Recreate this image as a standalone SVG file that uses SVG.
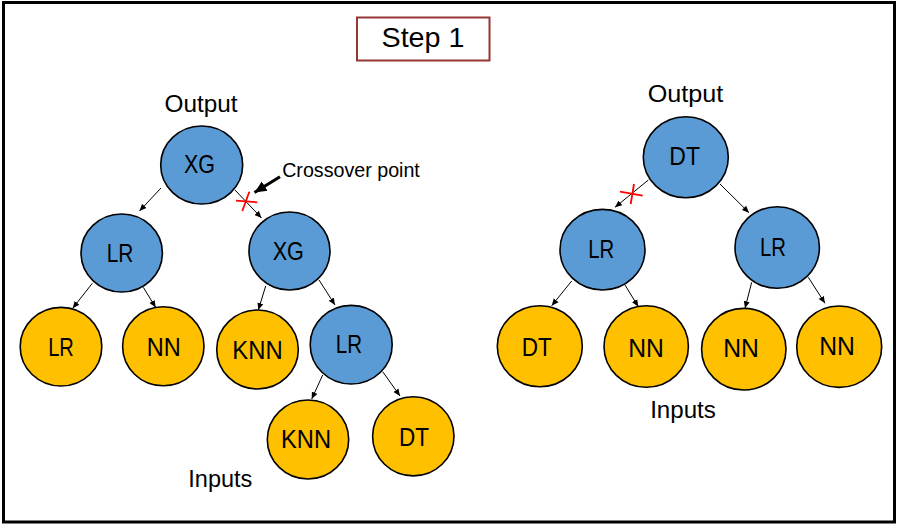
<svg xmlns="http://www.w3.org/2000/svg" width="899" height="527" viewBox="0 0 899 527">
<style>
.b{fill:#5B9BD5;stroke:#000;stroke-width:1.6}
.y{fill:#FFC000;stroke:#000;stroke-width:1.6}
.t{font-family:"Liberation Sans",Arial,sans-serif;fill:#000;text-anchor:middle}
.lbl{font-size:25px}
.cap{font-size:23.5px}
.e{stroke:#000;stroke-width:1;fill:none;marker-end:url(#ah)}
.x{stroke:#FF0000;stroke-width:1.8;fill:none}
</style>
<defs>
<marker id="ah" markerUnits="userSpaceOnUse" markerWidth="8" markerHeight="8" refX="7" refY="4" orient="auto">
<path d="M0,1 L7,4 L0,7 Z" fill="#000"/>
</marker>
<marker id="ahb" markerUnits="userSpaceOnUse" markerWidth="14" markerHeight="14" refX="12" refY="7" orient="auto">
<path d="M0,1.5 L12,7 L0,12.5 Z" fill="#000"/>
</marker>
</defs>
<rect x="0" y="0" width="899" height="527" fill="#fff"/>
<rect x="3.5" y="2.5" width="891" height="519.5" fill="none" stroke="#000" stroke-width="3"/>

<g id="title">
<rect x="357" y="17.5" width="132.5" height="43" fill="#fff" stroke="#953735" stroke-width="2"/>
<text class="t" x="423" y="47" font-size="28.5" textLength="83" lengthAdjust="spacingAndGlyphs">Step 1</text>
</g>

<g id="connectors">
<line class="e" x1="161" y1="188" x2="139.5" y2="211"/>
<line class="e" x1="235" y1="190" x2="261.5" y2="218"/>
<line class="e" x1="92.3" y1="283.3" x2="72.7" y2="308.3"/>
<line class="e" x1="143.3" y1="287.3" x2="155.7" y2="307.5"/>
<line class="e" x1="265.7" y1="286" x2="258.3" y2="310"/>
<line class="e" x1="319" y1="280" x2="335" y2="305"/>
<line class="e" x1="322.7" y1="375" x2="311.7" y2="399"/>
<line class="e" x1="382.7" y1="371.7" x2="400" y2="396"/>
<line class="e" x1="648.3" y1="180" x2="615" y2="207.3"/>
<line class="e" x1="720" y1="184" x2="749" y2="212.7"/>
<line class="e" x1="571.7" y1="281" x2="551.7" y2="305.7"/>
<line class="e" x1="625" y1="285" x2="638.3" y2="306.7"/>
<line class="e" x1="751.7" y1="282.3" x2="745" y2="308.3"/>
<line class="e" x1="808.3" y1="277.3" x2="825" y2="303.3"/>
</g>

<g id="crossover-left">
<line class="x" x1="236" y1="200.7" x2="257.3" y2="202.3"/>
<line class="x" x1="249.3" y1="191.7" x2="242.3" y2="211"/>
</g>
<g id="crossover-right">
<line class="x" x1="620" y1="191.7" x2="642.7" y2="195.7"/>
<line class="x" x1="634" y1="184" x2="630.7" y2="204"/>
</g>

<g id="crossover-callout">
<line x1="280" y1="176.7" x2="254.5" y2="192.5" stroke="#000" stroke-width="3" marker-end="url(#ahb)"/>
<text class="t" x="351" y="176.7" font-size="19.5" textLength="137.7" lengthAdjust="spacingAndGlyphs">Crossover point</text>
</g>

<g id="left-labels">
<text class="t cap" x="201" y="111.5" textLength="73" lengthAdjust="spacingAndGlyphs">Output</text>
<text class="t cap" x="220.3" y="486.7" textLength="64" lengthAdjust="spacingAndGlyphs">Inputs</text>
</g>
<g id="right-labels">
<text class="t cap" x="685.5" y="101.7" textLength="75.6" lengthAdjust="spacingAndGlyphs">Output</text>
<text class="t cap" x="683" y="417.5" textLength="65.7" lengthAdjust="spacingAndGlyphs">Inputs</text>
</g>

<g id="L-root"><ellipse class="b" cx="201.7" cy="165" rx="41" ry="39"/><text class="t lbl" x="199.5" y="172.7" textLength="31" lengthAdjust="spacingAndGlyphs">XG</text></g>
<g id="L-lr"><ellipse class="b" cx="121.7" cy="253" rx="40.7" ry="39"/><text class="t lbl" x="120" y="262.3" textLength="26.7" lengthAdjust="spacingAndGlyphs">LR</text></g>
<g id="L-xg"><ellipse class="b" cx="289.5" cy="251" rx="40.5" ry="39"/><text class="t lbl" x="288.3" y="260" textLength="31.3" lengthAdjust="spacingAndGlyphs">XG</text></g>
<g id="L-leaf-lr"><ellipse class="y" cx="61" cy="346.7" rx="40.8" ry="39.3"/><text class="t lbl" x="61" y="355.7" textLength="25.7" lengthAdjust="spacingAndGlyphs">LR</text></g>
<g id="L-leaf-nn"><ellipse class="y" cx="163.3" cy="346.3" rx="40.7" ry="39.5"/><text class="t lbl" x="163.7" y="355.7" textLength="34" lengthAdjust="spacingAndGlyphs">NN</text></g>
<g id="L-leaf-knn"><ellipse class="y" cx="257.5" cy="349.5" rx="40.8" ry="39.5"/><text class="t lbl" x="257.5" y="359.3" textLength="50.4" lengthAdjust="spacingAndGlyphs">KNN</text></g>
<g id="L-lr2"><ellipse class="b" cx="351.2" cy="344.7" rx="41" ry="39.3"/><text class="t lbl" x="349" y="352.7" textLength="26.3" lengthAdjust="spacingAndGlyphs">LR</text></g>
<g id="L-leaf-knn2"><ellipse class="y" cx="308" cy="439.5" rx="40.7" ry="39.5"/><text class="t lbl" x="306" y="448.3" textLength="50" lengthAdjust="spacingAndGlyphs">KNN</text></g>
<g id="L-leaf-dt"><ellipse class="y" cx="413.3" cy="436.3" rx="40.7" ry="39.6"/><text class="t lbl" x="414" y="445.7" textLength="30" lengthAdjust="spacingAndGlyphs">DT</text></g>

<g id="R-root"><ellipse class="b" cx="685.8" cy="157.2" rx="42.5" ry="40.5"/><text class="t lbl" x="684.7" y="165" textLength="30.7" lengthAdjust="spacingAndGlyphs">DT</text></g>
<g id="R-lr1"><ellipse class="b" cx="602.5" cy="249.7" rx="42.5" ry="40.3"/><text class="t lbl" x="601.3" y="258.3" textLength="26" lengthAdjust="spacingAndGlyphs">LR</text></g>
<g id="R-lr2"><ellipse class="b" cx="777.2" cy="247.5" rx="42.2" ry="40.8"/><text class="t lbl" x="773" y="256" textLength="26" lengthAdjust="spacingAndGlyphs">LR</text></g>
<g id="R-leaf-dt"><ellipse class="y" cx="539.8" cy="346.2" rx="42.5" ry="40.5"/><text class="t lbl" x="536.7" y="355.7" textLength="30" lengthAdjust="spacingAndGlyphs">DT</text></g>
<g id="R-leaf-nn1"><ellipse class="y" cx="646.2" cy="346.5" rx="42.2" ry="40.8"/><text class="t lbl" x="646" y="356.7" textLength="35.7" lengthAdjust="spacingAndGlyphs">NN</text></g>
<g id="R-leaf-nn2"><ellipse class="y" cx="743.8" cy="349.2" rx="42.2" ry="40.8"/><text class="t lbl" x="741" y="356.7" textLength="35.7" lengthAdjust="spacingAndGlyphs">NN</text></g>
<g id="R-leaf-nn3"><ellipse class="y" cx="839.2" cy="346.7" rx="42.5" ry="40.7"/><text class="t lbl" x="837" y="355" textLength="35.7" lengthAdjust="spacingAndGlyphs">NN</text></g>
</svg>
